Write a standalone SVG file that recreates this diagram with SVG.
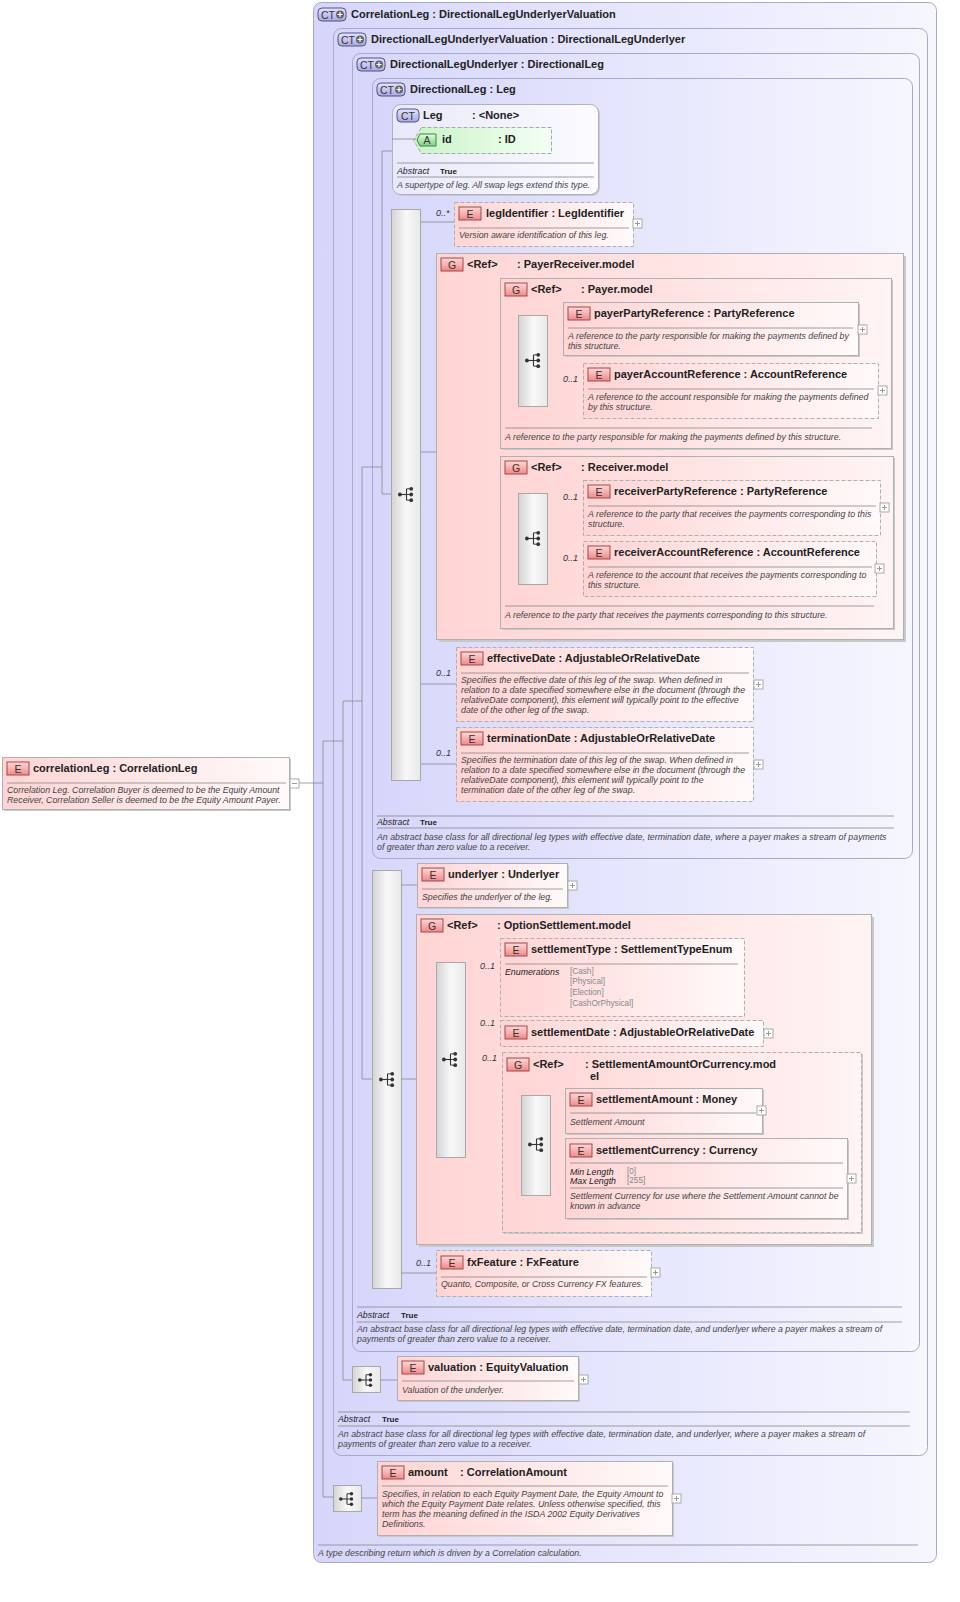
<svg xmlns="http://www.w3.org/2000/svg" width="960" height="1602" viewBox="0 0 960 1602">
<defs>
<linearGradient id="gct" x1="0" y1="0" x2="1" y2="0"><stop offset="0" stop-color="#d6d6fb"/><stop offset="1" stop-color="#f6f6ff"/></linearGradient>
<linearGradient id="gel" x1="0" y1="0" x2="1" y2="0"><stop offset="0" stop-color="#ffd4d4"/><stop offset="1" stop-color="#fffafa"/></linearGradient>
<linearGradient id="ggr" x1="0" y1="0" x2="1" y2="0"><stop offset="0" stop-color="#ffd4d4"/><stop offset="1" stop-color="#fff4f4"/></linearGradient>
<linearGradient id="gat" x1="0" y1="0" x2="1" y2="0"><stop offset="0" stop-color="#c8f4c8"/><stop offset="1" stop-color="#f4fff4"/></linearGradient>
<linearGradient id="gleg" x1="0" y1="0" x2="1" y2="0"><stop offset="0" stop-color="#e8e8fb"/><stop offset="1" stop-color="#fbfbff"/></linearGradient>
<linearGradient id="gbar" x1="0" y1="0" x2="1" y2="0"><stop offset="0" stop-color="#d4d4d4"/><stop offset="0.5" stop-color="#f8f8f8"/><stop offset="1" stop-color="#e8e8e8"/></linearGradient>
<linearGradient id="gbe" x1="0" y1="0" x2="0" y2="1"><stop offset="0" stop-color="#ffd8d8"/><stop offset="1" stop-color="#f08888"/></linearGradient>
<linearGradient id="gbc" x1="0" y1="0" x2="0" y2="1"><stop offset="0" stop-color="#e4e4ff"/><stop offset="1" stop-color="#a8a8e0"/></linearGradient>
<linearGradient id="gba" x1="0" y1="0" x2="0" y2="1"><stop offset="0" stop-color="#e0ffe0"/><stop offset="1" stop-color="#80d080"/></linearGradient>
<symbol id="seq" viewBox="0 0 18 18" overflow="visible">
<circle cx="2" cy="9" r="2" fill="#333"/><line x1="2" y1="9" x2="9" y2="9" stroke="#333" stroke-width="1.2"/><line x1="9" y1="3" x2="9" y2="15" stroke="#333" stroke-width="1.2"/>
<line x1="9" y1="3" x2="14" y2="3" stroke="#333"/><line x1="9" y1="9" x2="14" y2="9" stroke="#333"/><line x1="9" y1="15" x2="14" y2="15" stroke="#333"/>
<circle cx="14" cy="3" r="2" fill="#333"/><circle cx="14" cy="9" r="2" fill="#333"/><circle cx="14" cy="15" r="2" fill="#333"/>
</symbol>
<g id="exp"><rect x="0" y="0" width="9" height="9" fill="#fff" stroke="#aaa"/><path d="M2 4.5H7M4.5 2V7" stroke="#999"/></g>
<g id="expm"><rect x="0" y="0" width="9" height="9" fill="#fff" stroke="#aaa"/><path d="M2 4.5H7" stroke="#999"/></g>
<g id="bE"><rect x="0" y="0" width="22" height="13" fill="url(#gbe)" stroke="#a04848"/><text x="11" y="10.5" class="bt">E</text></g>
<g id="bG"><rect x="0" y="0" width="22" height="13" fill="url(#gbe)" stroke="#a04848"/><text x="11" y="10.5" class="bt">G</text></g>
<g id="bCT"><rect x="0" y="0" width="28" height="13" rx="4" fill="url(#gbc)" stroke="#50508a"/><text x="10" y="10.5" class="bt">CT</text><circle cx="22" cy="6.5" r="4" fill="#666"/><path d="M19.5 6.5H24.5M22 4V9" stroke="#fff" stroke-width="1.2"/></g>
<g id="bCT0"><rect x="0" y="0" width="22" height="13" rx="4" fill="url(#gbc)" stroke="#50508a"/><text x="11" y="10.5" class="bt">CT</text></g>
</defs>
<style>
text{font-family:"Liberation Sans",Arial,sans-serif;fill:#222}
.t{font-size:11px;font-weight:bold}
.bt{font-size:10.5px;text-anchor:middle;fill:#333}
.d{font-size:8.8px;font-style:italic;fill:#444}
.k{font-size:8.8px;font-style:italic;fill:#222}
.kb{font-size:8px;font-weight:bold;fill:#222}
.v{font-size:8.2px;fill:#888}
.m{font-size:9px;font-style:italic;fill:#333}
.ct{fill:url(#gct);stroke:#a8a8c8}
.leg{fill:url(#gleg);stroke:#b0b0c0}
.el{fill:url(#gel);stroke:#b0b0b0}
.eld{fill:url(#gel);stroke:#b0b0b0;stroke-dasharray:4 2}
.gr{fill:url(#ggr);stroke:#b0b0b0}
.grd{fill:url(#ggr);stroke:#b0b0b0;stroke-dasharray:4 2}
.at{fill:url(#gat);stroke:#a8a8a8;stroke-dasharray:4 2}
.bar{fill:url(#gbar);stroke:#a8a8a8}
.sep{stroke:#888;stroke-width:0.8}
.c{stroke:#888;fill:none;stroke-width:0.8}
.sh{fill:#c8c8c8}
</style>

<g id="ct1"><rect class="ct" x="313.5" y="2.5" width="623" height="1560" rx="8"/><use href="#bCT" x="318" y="8"/><text class="t" x="351" y="18">CorrelationLeg : DirectionalLegUnderlyerValuation</text>
<line class="sep" x1="318" y1="1545" x2="918" y2="1545"/><text class="d" x="318" y="1556">A type describing return which is driven by a Correlation calculation.</text></g>
<g id="ct2"><rect class="ct" x="333.5" y="28.5" width="594" height="1427" rx="8"/><use href="#bCT" x="338" y="33"/><text class="t" x="371" y="43">DirectionalLegUnderlyerValuation : DirectionalLegUnderlyer</text>
<line class="sep" x1="338" y1="1412" x2="910" y2="1412"/><text class="k" x="338" y="1422">Abstract</text><text class="kb" x="382" y="1422">True</text><line class="sep" x1="338" y1="1426" x2="910" y2="1426"/>
<text class="d" x="338" y="1437">An abstract base class for all directional leg types with effective date, termination date, and underlyer, where a payer makes a stream of</text><text class="d" x="338" y="1447">payments of greater than zero value to a receiver.</text></g>
<g id="ct3"><rect class="ct" x="352.5" y="53.5" width="567" height="1298" rx="8"/><use href="#bCT" x="357" y="58"/><text class="t" x="390" y="68">DirectionalLegUnderlyer : DirectionalLeg</text>
<line class="sep" x1="357" y1="1307" x2="902" y2="1307"/><text class="k" x="357" y="1318">Abstract</text><text class="kb" x="401" y="1318">True</text><line class="sep" x1="357" y1="1322" x2="902" y2="1322"/>
<text class="d" x="357" y="1332">An abstract base class for all directional leg types with effective date, termination date, and underlyer where a payer makes a stream of</text><text class="d" x="357" y="1342">payments of greater than zero value to a receiver.</text></g>
<g id="ct4"><rect class="ct" x="372.5" y="78.5" width="540" height="780" rx="8"/><use href="#bCT" x="377" y="83"/><text class="t" x="410" y="93">DirectionalLeg : Leg</text>
<line class="sep" x1="377" y1="816" x2="894" y2="816"/><text class="k" x="377" y="825">Abstract</text><text class="kb" x="420" y="825">True</text><line class="sep" x1="377" y1="828" x2="894" y2="828"/>
<text class="d" x="377" y="840">An abstract base class for all directional leg types with effective date, termination date, where a payer makes a stream of payments</text><text class="d" x="377" y="850">of greater than zero value to a receiver.</text></g>
<g id="leg"><rect class="sh" x="394" y="106" width="206" height="90" rx="8"/><rect class="leg" x="392.5" y="104.5" width="206" height="90" rx="8"/><use href="#bCT0" x="397" y="109"/><text class="t" x="423" y="119">Leg</text><text class="t" x="472" y="119">: &lt;None&gt;</text>
<line class="sep" x1="397" y1="163" x2="594" y2="163"/><text class="k" x="397" y="174">Abstract</text><text class="kb" x="440" y="174">True</text><line class="sep" x1="397" y1="177" x2="594" y2="177"/><text class="d" x="397" y="188">A supertype of leg. All swap legs extend this type.</text></g>
<g id="attr-id"><path class="at" d="M421.5 127.5H551.5V153.5H421.5L413.5 140.5Z"/><path d="M420 134H436V146H420L417 140Z" fill="url(#gba)" stroke="#408040"/><text x="427" y="144" class="bt">A</text><text class="t" x="442" y="143">id</text><text class="t" x="498" y="143">: ID</text></g>

<g id="bars">
<rect class="bar" x="391.5" y="209.5" width="29" height="571"/><use href="#seq" x="398" y="486" width="17" height="17"/>
<rect class="bar" x="455.5" y="348.5" width="29" height="209"/><use href="#seq" x="462" y="444" width="17" height="17"/>
<rect class="bar" x="372.5" y="870.5" width="29" height="418"/><use href="#seq" x="379" y="1071" width="17" height="17"/>
<rect class="bar" x="352.5" y="1366.5" width="28" height="26"/><use href="#seq" x="358" y="1372" width="16" height="16"/>
<rect class="bar" x="333.5" y="1485.5" width="28" height="26"/><use href="#seq" x="339" y="1491" width="16" height="16"/>
</g>

<g id="connectors">
<path class="c" d="M298 783H323M323 741V1497M323 741H343M323 1497H333M343 701V1380M343 701H362M343 1380H352M362 467V1079M362 467H382M362 1079H372M382 151V494M382 151H392M382 494H391M392 139H416"/>
<path class="c" d="M421 222H454M421 452H455M485 362H500M485 541H500M421 684H456M421 764H456"/>
<path class="c" d="M548 330H563M548 399H583M548 508H583M548 569H583"/>
<path class="c" d="M401 885H417M401 1079H416M416 1059H436M465 977H500M465 1034H500M465 1142H502M502 1144H521M550 1134H565M550 1204H565M401 1273H436M380 1380H397M361 1498H377"/>
</g>

<g id="legIdentifier"><rect class="eld" x="454.5" y="202.5" width="179" height="44"/><use href="#bE" x="459" y="207"/><text class="t" x="486" y="217">legIdentifier : LegIdentifier</text><line class="sep" x1="459" y1="228" x2="629" y2="228"/><text class="d" x="459" y="238">Version aware identification of this leg.</text><text class="m" x="436" y="216">0..*</text><use href="#exp" x="633" y="219"/></g>

<g id="payerReceiver"><rect class="sh" x="439" y="256" width="467" height="386"/><rect class="gr" x="436.5" y="253.5" width="467" height="386"/><use href="#bG" x="441" y="258"/><text class="t" x="467" y="268">&lt;Ref&gt;</text><text class="t" x="517" y="268">: PayerReceiver.model</text></g>
<g id="payerModel"><rect class="sh" x="502" y="280" width="391" height="170"/><rect class="gr" x="500.5" y="278.5" width="391" height="170"/><use href="#bG" x="505" y="283"/><text class="t" x="531" y="293">&lt;Ref&gt;</text><text class="t" x="581" y="293">: Payer.model</text>
<line class="sep" x1="505" y1="428" x2="872" y2="428"/><text class="d" x="505" y="440">A reference to the party responsible for making the payments defined by this structure.</text>
<rect class="bar" x="518.5" y="315.5" width="29" height="91"/><use href="#seq" x="525" y="352" width="17" height="17"/></g>
<g id="payerPartyReference"><rect class="sh" x="565" y="304" width="295" height="53"/><rect class="el" x="563.5" y="302.5" width="295" height="53"/><use href="#bE" x="568" y="307"/><text class="t" x="594" y="317">payerPartyReference : PartyReference</text><line class="sep" x1="568" y1="328" x2="853" y2="328"/><text class="d" x="568" y="339">A reference to the party responsible for making the payments defined by</text><text class="d" x="568" y="349">this structure.</text><use href="#exp" x="858" y="325"/></g>
<g id="payerAccountReference"><rect class="eld" x="583.5" y="363.5" width="295" height="55"/><use href="#bE" x="588" y="368"/><text class="t" x="614" y="378">payerAccountReference : AccountReference</text><line class="sep" x1="588" y1="389" x2="874" y2="389"/><text class="d" x="588" y="400">A reference to the account responsible for making the payments defined</text><text class="d" x="588" y="410">by this structure.</text><text class="m" x="563" y="382">0..1</text><use href="#exp" x="878" y="386"/></g>
<g id="receiverModel"><rect class="sh" x="502" y="458" width="393" height="172"/><rect class="gr" x="500.5" y="456.5" width="393" height="172"/><use href="#bG" x="505" y="461"/><text class="t" x="531" y="471">&lt;Ref&gt;</text><text class="t" x="581" y="471">: Receiver.model</text>
<line class="sep" x1="505" y1="606" x2="874" y2="606"/><text class="d" x="505" y="618">A reference to the party that receives the payments corresponding to this structure.</text>
<rect class="bar" x="518.5" y="493.5" width="29" height="91"/><use href="#seq" x="525" y="530" width="17" height="17"/></g>
<g id="receiverPartyReference"><rect class="eld" x="583.5" y="480.5" width="297" height="55"/><use href="#bE" x="588" y="485"/><text class="t" x="614" y="495">receiverPartyReference : PartyReference</text><line class="sep" x1="588" y1="506" x2="876" y2="506"/><text class="d" x="588" y="517">A reference to the party that receives the payments corresponding to this</text><text class="d" x="588" y="527">structure.</text><text class="m" x="563" y="500">0..1</text><use href="#exp" x="880" y="503"/></g>
<g id="receiverAccountReference"><rect class="eld" x="583.5" y="541.5" width="293" height="55"/><use href="#bE" x="588" y="546"/><text class="t" x="614" y="556">receiverAccountReference : AccountReference</text><line class="sep" x1="588" y1="567" x2="872" y2="567"/><text class="d" x="588" y="578">A reference to the account that receives the payments corresponding to</text><text class="d" x="588" y="588">this structure.</text><text class="m" x="563" y="561">0..1</text><use href="#exp" x="875" y="564"/></g>

<g id="effectiveDate"><rect class="eld" x="456.5" y="647.5" width="297" height="74"/><use href="#bE" x="461" y="652"/><text class="t" x="487" y="662">effectiveDate : AdjustableOrRelativeDate</text><line class="sep" x1="461" y1="673" x2="749" y2="673"/><text class="d" x="461" y="683">Specifies the effective date of this leg of the swap. When defined in</text><text class="d" x="461" y="693">relation to a date specified somewhere else in the document (through the</text><text class="d" x="461" y="703">relativeDate component), this element will typically point to the effective</text><text class="d" x="461" y="713">date of the other leg of the swap.</text><text class="m" x="436" y="676">0..1</text><use href="#exp" x="754" y="680"/></g>
<g id="terminationDate"><rect class="eld" x="456.5" y="727.5" width="297" height="74"/><use href="#bE" x="461" y="732"/><text class="t" x="487" y="742">terminationDate : AdjustableOrRelativeDate</text><line class="sep" x1="461" y1="753" x2="749" y2="753"/><text class="d" x="461" y="763">Specifies the termination date of this leg of the swap. When defined in</text><text class="d" x="461" y="773">relation to a date specified somewhere else in the document (through the</text><text class="d" x="461" y="783">relativeDate component), this element will typically point to the</text><text class="d" x="461" y="793">termination date of the other leg of the swap.</text><text class="m" x="436" y="756">0..1</text><use href="#exp" x="754" y="760"/></g>

<g id="underlyer"><rect class="sh" x="419" y="865" width="150" height="44"/><rect class="el" x="417.5" y="863.5" width="150" height="44"/><use href="#bE" x="422" y="868"/><text class="t" x="448" y="878">underlyer : Underlyer</text><line class="sep" x1="422" y1="889" x2="563" y2="889"/><text class="d" x="422" y="900">Specifies the underlyer of the leg.</text><use href="#exp" x="568" y="881"/></g>

<g id="optionSettlement"><rect class="sh" x="419" y="917" width="455" height="330"/><rect class="gr" x="416.5" y="914.5" width="455" height="330"/><use href="#bG" x="421" y="919"/><text class="t" x="447" y="929">&lt;Ref&gt;</text><text class="t" x="497" y="929">: OptionSettlement.model</text>
<rect class="bar" x="436.5" y="962.5" width="29" height="195"/><use href="#seq" x="442" y="1051" width="17" height="17"/></g>
<g id="settlementType"><rect class="eld" x="500.5" y="938.5" width="244" height="78"/><use href="#bE" x="505" y="943"/><text class="t" x="531" y="953">settlementType : SettlementTypeEnum</text><line class="sep" x1="505" y1="964" x2="738" y2="964"/><text class="k" x="505" y="975">Enumerations</text><text class="v" x="570" y="974">[Cash]</text><text class="v" x="570" y="984">[Physical]</text><text class="v" x="570" y="995">[Election]</text><text class="v" x="570" y="1006">[CashOrPhysical]</text><text class="m" x="480" y="969">0..1</text></g>
<g id="settlementDate"><rect class="eld" x="500.5" y="1020.5" width="263" height="26"/><use href="#bE" x="505" y="1026"/><text class="t" x="531" y="1036">settlementDate : AdjustableOrRelativeDate</text><text class="m" x="480" y="1026">0..1</text><use href="#exp" x="764" y="1029"/></g>
<g id="settlementAmountOrCurrency"><rect class="sh" x="504" y="1054" width="359" height="180"/><rect class="grd" x="502.5" y="1052.5" width="359" height="180"/><use href="#bG" x="507" y="1058"/><text class="t" x="533" y="1068">&lt;Ref&gt;</text><text class="t" x="585" y="1068">: SettlementAmountOrCurrency.mod</text><text class="t" x="590" y="1080">el</text><text class="m" x="482" y="1061">0..1</text>
<rect class="bar" x="521.5" y="1095.5" width="29" height="100"/><use href="#seq" x="528" y="1136" width="17" height="17"/></g>
<g id="settlementAmount"><rect class="sh" x="567" y="1090" width="197" height="45"/><rect class="el" x="565.5" y="1088.5" width="197" height="45"/><use href="#bE" x="570" y="1093"/><text class="t" x="596" y="1103">settlementAmount : Money</text><line class="sep" x1="570" y1="1113" x2="756" y2="1113"/><text class="d" x="570" y="1125">Settlement Amount</text><use href="#exp" x="757" y="1106"/></g>
<g id="settlementCurrency"><rect class="sh" x="567" y="1140" width="282" height="80"/><rect class="el" x="565.5" y="1138.5" width="282" height="80"/><use href="#bE" x="570" y="1144"/><text class="t" x="596" y="1154">settlementCurrency : Currency</text><line class="sep" x1="570" y1="1163" x2="843" y2="1163"/><text class="k" x="570" y="1175">Min Length</text><text class="v" x="627" y="1174">[0]</text><text class="k" x="570" y="1184">Max Length</text><text class="v" x="627" y="1183">[255]</text><line class="sep" x1="570" y1="1188" x2="843" y2="1188"/><text class="d" x="570" y="1199">Settlement Currency for use where the Settlement Amount cannot be</text><text class="d" x="570" y="1209">known in advance</text><use href="#exp" x="847" y="1174"/></g>

<g id="fxFeature"><rect class="eld" x="436.5" y="1250.5" width="215" height="46"/><use href="#bE" x="441" y="1256"/><text class="t" x="467" y="1266">fxFeature : FxFeature</text><line class="sep" x1="441" y1="1277" x2="647" y2="1277"/><text class="d" x="441" y="1287">Quanto, Composite, or Cross Currency FX features.</text><text class="m" x="416" y="1266">0..1</text><use href="#exp" x="651" y="1268"/></g>

<g id="valuation"><rect class="sh" x="399" y="1358" width="181" height="44"/><rect class="el" x="397.5" y="1356.5" width="181" height="44"/><use href="#bE" x="402" y="1361"/><text class="t" x="428" y="1371">valuation : EquityValuation</text><line class="sep" x1="402" y1="1381" x2="574" y2="1381"/><text class="d" x="402" y="1393">Valuation of the underlyer.</text><use href="#exp" x="579" y="1375"/></g>

<g id="amount"><rect class="sh" x="379" y="1463" width="295" height="74"/><rect class="el" x="377.5" y="1461.5" width="295" height="74"/><use href="#bE" x="382" y="1466"/><text class="t" x="408" y="1476">amount</text><text class="t" x="460" y="1476">: CorrelationAmount</text><line class="sep" x1="382" y1="1486" x2="668" y2="1486"/><text class="d" x="382" y="1497">Specifies, in relation to each Equity Payment Date, the Equity Amount to</text><text class="d" x="382" y="1507">which the Equity Payment Date relates. Unless otherwise specified, this</text><text class="d" x="382" y="1517">term has the meaning defined in the ISDA 2002 Equity Derivatives</text><text class="d" x="382" y="1527">Definitions.</text><use href="#exp" x="672" y="1494"/></g>

<g id="correlationLeg"><rect class="sh" x="4" y="759" width="287" height="52"/><rect class="el" x="2.5" y="757.5" width="287" height="52"/><use href="#bE" x="7" y="762"/><text class="t" x="33" y="772">correlationLeg : CorrelationLeg</text><line class="sep" x1="7" y1="783" x2="286" y2="783"/><text class="d" x="7" y="793">Correlation Leg. Correlation Buyer is deemed to be the Equity Amount</text><text class="d" x="7" y="803">Receiver, Correlation Seller is deemed to be the Equity Amount Payer.</text><use href="#expm" x="290" y="779"/></g>
</svg>
